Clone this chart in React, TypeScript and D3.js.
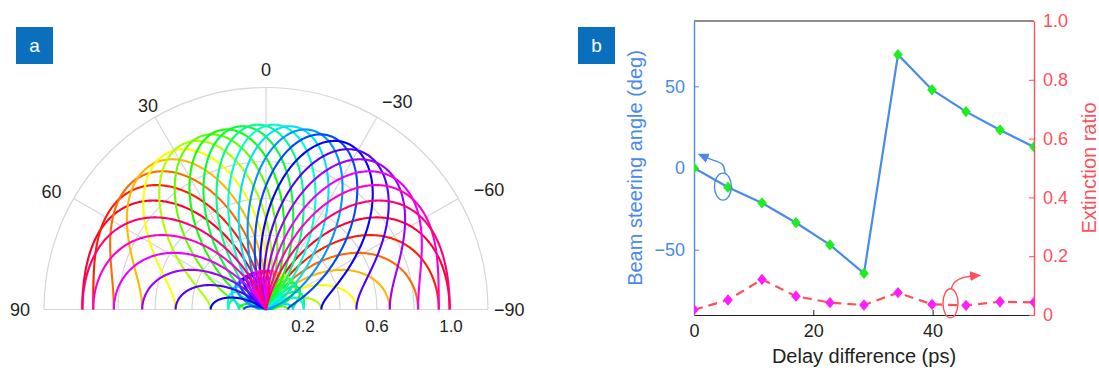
import React, { useEffect, useRef } from 'react'
import * as d3 from 'd3'

// panel a: far-field patterns, sine of the main-lobe direction and hue of each trace
const steerSin = [0.95, 0.85, 0.75, 0.65, 0.55, 0.45, 0.35, 0.25, 0.15, 0.05, -0.05, -0.15, -0.25, -0.35, -0.45, -0.55, -0.65, -0.75, -0.85, -0.95]
const patternHue = [349, 7, 25, 43, 61, 79, 97, 115, 133, 151, 169, 187, 205, 223, 241, 259, 277, 295, 313, 331]
const elementWeights = [1, 1.3, 1]
const thetaTicks = [90, 60, 30, 0, -30, -60, -90]
const rGrid = [0.2, 0.4, 0.6, 0.8, 1.0, 1.2]
const rLabels = [0.2, 0.6, 1.0]

// panel b: steering angle and extinction ratio vs delay difference
const delay = [0, 5.7, 11.4, 17.1, 22.8, 28.5, 34.2, 39.9, 45.6, 51.3, 57]
const steerAngle = [0, -11.8, -21.4, -33.5, -47.1, -64.5, 69.4, 47.9, 34.5, 23.3, 12.9]
const extinction = [0.018, 0.051, 0.121, 0.064, 0.042, 0.034, 0.076, 0.036, 0.033, 0.045, 0.043]
const xTicks = [0, 20, 40]
const yLeftTicks = [-50, 0, 50]
const yRightTicks = [0, 0.2, 0.4, 0.6, 0.8, 1.0]

const FONT = '"Liberation Sans", Arial, Helvetica, sans-serif'
const INK = '#231f20'
const GRID = '#d6d6d6'
const BLUE = '#4a8ae8'
const RED = '#ff4f5a'
const BOX = '#0a6fbd'

// normalised array factor of a half-wavelength spaced array
const arrayFactor = (theta: number, s0: number) => {
  const psi = Math.PI * (Math.sin(theta) - s0)
  let re = 0
  let im = 0
  elementWeights.forEach((w, n) => {
    re += w * Math.cos(n * psi)
    im += w * Math.sin(n * psi)
  })
  return Math.hypot(re, im) / d3.sum(elementWeights)
}

const App = () => {
  const refSvg = useRef<SVGSVGElement>(null)

  const draw = () => {
    const svg = d3.select(refSvg.current)
    svg.selectAll('*').remove()

    const defs = svg.append('defs')
    ;[['arrBlue', BLUE], ['arrRed', RED]].forEach(([id, c]) => {
      defs
        .append('marker')
        .attr('id', id)
        .attr('viewBox', '0 0 10 10')
        .attr('refX', 6)
        .attr('refY', 5)
        .attr('markerUnits', 'userSpaceOnUse')
        .attr('markerWidth', 11)
        .attr('markerHeight', 11)
        .attr('orient', 'auto')
        .append('path')
        .attr('d', 'M0,0.5 L10,5 L0,9.5 Z')
        .attr('fill', c)
    })

    // ---------- panel a ----------
    const cx = 266
    const cy = 309.5
    const r = d3.scaleLinear().domain([0, 1.2]).range([0, 222])
    const ga = svg.append('g').attr('transform', `translate(${cx},${cy})`)

    const arc = d3.arc<number>().innerRadius((d) => r(d)).outerRadius((d) => r(d)).startAngle(-Math.PI / 2).endAngle(Math.PI / 2)
    ga.selectAll('path.rgrid')
      .data(rGrid)
      .enter()
      .append('path')
      .attr('class', 'rgrid')
      .attr('d', (d) => arc(d))
      .attr('fill', 'none')
      .attr('stroke', GRID)
      .attr('stroke-width', 1.2)

    ga.selectAll('line.spoke')
      .data(thetaTicks)
      .enter()
      .append('line')
      .attr('x2', (d) => -r(1.2) * Math.sin((d * Math.PI) / 180))
      .attr('y2', (d) => -r(1.2) * Math.cos((d * Math.PI) / 180))
      .attr('stroke', GRID)
      .attr('stroke-width', 1.2)

    const thetas = d3.range(-90, 90.001, 0.25).map((t) => (t * Math.PI) / 180)
    steerSin.forEach((s0, i) => {
      const line = d3
        .lineRadial<number>()
        .angle((t) => -t)
        .radius((t) => r(arrayFactor(t, s0)))
      ga.append('path')
        .attr('d', line(thetas))
        .attr('fill', 'none')
        .attr('stroke', d3.hsl(patternHue[i], 1, 0.5).toString())
        .attr('stroke-width', 2.1)
    })

    const labelR = (d: number) => (d > 0 ? 236 : 240)
    ga.selectAll('text.tt')
      .data(thetaTicks)
      .enter()
      .append('text')
      .attr('x', (d) => -labelR(d) * Math.sin((d * Math.PI) / 180))
      .attr('y', (d) => -labelR(d) * Math.cos((d * Math.PI) / 180))
      .attr('dy', '0.36em')
      .attr('text-anchor', (d) => (d > 0 ? 'end' : d < 0 ? 'start' : 'middle'))
      .attr('dx', (d) => (d === 30 ? 10 : d === -30 ? -4 : d === -90 ? -12 : 0))
      .attr('font-family', FONT)
      .attr('font-size', 18)
      .attr('fill', INK)
      .text((d) => (d < 0 ? `\u2212${-d}` : `${d}`))

    ga.selectAll('text.rt')
      .data(rLabels)
      .enter()
      .append('text')
      .attr('x', (d) => r(d))
      .attr('y', 22.5)
      .attr('text-anchor', 'middle')
      .attr('font-family', FONT)
      .attr('font-size', 17)
      .attr('fill', INK)
      .text((d) => d.toFixed(1))

    // ---------- panel b ----------
    const x = d3.scaleLinear().domain([0, 57]).range([694, 1034])
    const yL = d3.scaleLinear().domain([-90, 90]).range([315, 21])
    const yR = d3.scaleLinear().domain([0, 1]).range([315, 21])

    svg.append('line').attr('x1', x(0)).attr('x2', x(57)).attr('y1', yL(90)).attr('y2', yL(90)).attr('stroke', INK).attr('stroke-width', 1.2)

    const xAxis = svg
      .append('g')
      .attr('transform', `translate(0,${yL(-90)})`)
      .call(d3.axisBottom(x).tickValues(xTicks).tickSizeInner(-5).tickSizeOuter(0).tickPadding(9))
    xAxis.select('.domain').attr('stroke', INK).attr('stroke-width', 1.2)
    xAxis.selectAll('line').attr('stroke', INK)
    xAxis.selectAll('text').attr('font-family', FONT).attr('font-size', 18).attr('fill', INK)

    const lAxis = svg
      .append('g')
      .attr('transform', `translate(${x(0)},0)`)
      .call(d3.axisLeft(yL).tickValues(yLeftTicks).tickSizeInner(-5).tickSizeOuter(0).tickPadding(9))
    lAxis.select('.domain').attr('stroke', BLUE).attr('stroke-width', 1.4)
    lAxis.selectAll('line').attr('stroke', BLUE)
    lAxis.selectAll('text').attr('font-family', FONT).attr('font-size', 18).attr('fill', BLUE)

    const rAxis = svg
      .append('g')
      .attr('transform', `translate(${x(57)},0)`)
      .call(
        d3
          .axisRight(yR)
          .tickValues(yRightTicks)
          .tickFormat((d) => (+d === 0 ? '0' : (+d).toFixed(1)))
          .tickSizeInner(-5)
          .tickSizeOuter(0)
          .tickPadding(9)
      )
    rAxis.select('.domain').attr('stroke', RED).attr('stroke-width', 1.4)
    rAxis.selectAll('line').attr('stroke', RED)
    rAxis.selectAll('text').attr('font-family', FONT).attr('font-size', 18).attr('fill', RED)

    const clip = defs.append('clipPath').attr('id', 'plotClip')
    clip.append('rect').attr('x', x(0)).attr('y', 0).attr('width', x(57) - x(0)).attr('height', 372)
    const plot = svg.append('g').attr('clip-path', 'url(#plotClip)')

    const idx = d3.range(delay.length)
    plot
      .append('path')
      .attr('d', d3.line<number>().x((i) => x(delay[i])).y((i) => yL(steerAngle[i]))(idx))
      .attr('fill', 'none')
      .attr('stroke', BLUE)
      .attr('stroke-width', 2.2)
    plot
      .append('path')
      .attr('d', d3.line<number>().x((i) => x(delay[i])).y((i) => yR(extinction[i]))(idx))
      .attr('fill', 'none')
      .attr('stroke', RED)
      .attr('stroke-width', 2.2)
      .attr('stroke-dasharray', '9,6')

    const diamond = d3.symbol(d3.symbolSquare, 64)()
    plot
      .selectAll('path.g')
      .data(idx)
      .enter()
      .append('path')
      .attr('d', diamond)
      .attr('transform', (i) => `translate(${x(delay[i])},${yL(steerAngle[i])}) scale(0.85,1) rotate(45)`)
      .attr('fill', '#1bf01b')
    plot
      .selectAll('path.m')
      .data(idx)
      .enter()
      .append('path')
      .attr('d', diamond)
      .attr('transform', (i) => `translate(${x(delay[i])},${yR(extinction[i])}) scale(0.85,1) rotate(45)`)
      .attr('fill', '#ff1cff')

    // axis hint: circles and arrows
    svg.append('ellipse').attr('cx', x(4.85)).attr('cy', yL(-11.4)).attr('rx', 8.5).attr('ry', 13.5).attr('fill', 'none').attr('stroke', BLUE).attr('stroke-width', 1.4)
    svg
      .append('path')
      .attr('d', d3.line().curve(d3.curveBasis)([[x(5.2), yL(-3.2)], [x(5.0), yL(3.0)], [x(3.2), yL(4.6)], [x(1.3), yL(7.6)]]))
      .attr('fill', 'none')
      .attr('stroke', BLUE)
      .attr('stroke-width', 1.4)
      .attr('marker-end', 'url(#arrBlue)')

    svg.append('ellipse').attr('cx', x(43)).attr('cy', yR(0.04)).attr('rx', 7.5).attr('ry', 14.5).attr('fill', 'none').attr('stroke', RED).attr('stroke-width', 1.4)
    svg
      .append('path')
      .attr('d', d3.line().curve(d3.curveBasis)([[x(43.1), yR(0.088)], [x(43.6), yR(0.115)], [x(45.2), yR(0.13)], [x(47.4), yR(0.134)]]))
      .attr('fill', 'none')
      .attr('stroke', RED)
      .attr('stroke-width', 1.4)
      .attr('marker-end', 'url(#arrRed)')

    svg
      .append('text')
      .attr('x', 864)
      .attr('y', 363)
      .attr('text-anchor', 'middle')
      .attr('font-family', FONT)
      .attr('font-size', 20)
      .attr('fill', INK)
      .text('Delay difference (ps)')
    svg
      .append('text')
      .attr('transform', 'translate(642,168) rotate(-90)')
      .attr('text-anchor', 'middle')
      .attr('font-family', FONT)
      .attr('font-size', 20)
      .attr('fill', BLUE)
      .text('Beam steering angle (deg)')
    svg
      .append('text')
      .attr('transform', 'translate(1096,168) rotate(-90)')
      .attr('text-anchor', 'middle')
      .attr('font-family', FONT)
      .attr('font-size', 20)
      .attr('fill', RED)
      .text('Extinction ratio')

    // panel letters
    ;[
      ['a', 16],
      ['b', 578],
    ].forEach(([t, px]) => {
      svg.append('rect').attr('x', +px).attr('y', 27).attr('width', 37).attr('height', 37).attr('fill', BOX)
      svg
        .append('text')
        .attr('x', +px + 18.5)
        .attr('y', 52)
        .attr('text-anchor', 'middle')
        .attr('font-family', FONT)
        .attr('font-size', 19)
        .attr('fill', '#ffffff')
        .text(t as string)
    })
  }

  useEffect(() => {
    if (refSvg.current) {
      draw()
    }
  })

  return <svg ref={refSvg} width={1099} height={372} style={{ position: 'absolute', left: 0, top: 0, background: '#fff' }} />
}

export default App
